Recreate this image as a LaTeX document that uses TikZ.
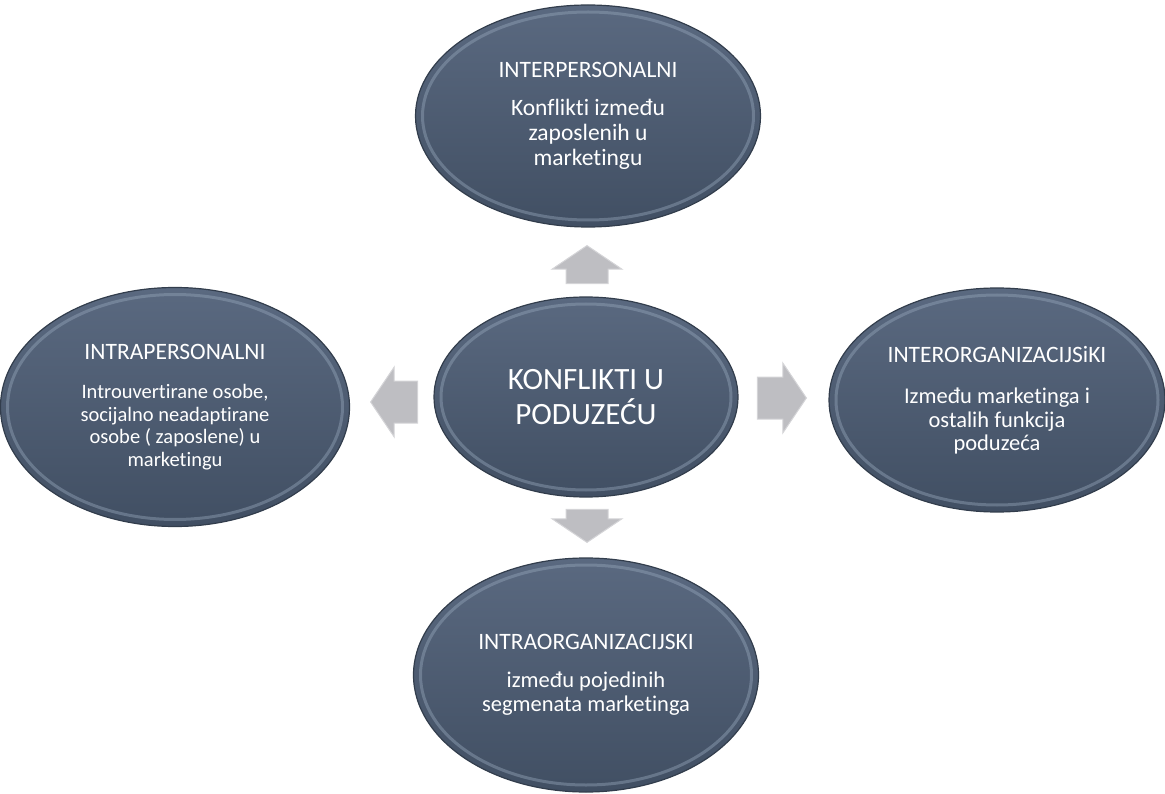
\documentclass[tikz,border=0pt]{standalone}
\usepackage{fontspec}
\setmainfont{Carlito}[Ligatures={NoCommon}]
\usepackage{tikz}
\usetikzlibrary{shapes,shapes.arrows,calc}

\definecolor{konfTop}{HTML}{5A6980}
\definecolor{konfBot}{HTML}{414F63}
\definecolor{konfEdge}{HTML}{323D4C}
\definecolor{konfRim}{HTML}{93A4B8}
\definecolor{blokFill}{HTML}{BEBEC2}
\definecolor{blokEdge}{HTML}{D4D4D7}

\newcommand{\naslov}[1]{{\fontsize{23.5}{23}\selectfont #1}}

\tikzset{
  konf/.style={ellipse, draw=konfEdge, line width=1.2pt, top color=konfTop, bottom color=konfBot,
    text=white, align=center, inner sep=0pt,
    path picture={
      \draw[konfRim, line width=3pt, opacity=0.45]
        let \p1=(path picture bounding box.north east), \p2=(path picture bounding box.center)
        in (\p2) ellipse ({\x1-\x2-7pt} and {\y1-\y2-7pt});
    }},
  blok/.style={single arrow, draw=blokEdge, fill=blokFill, line width=1pt, anchor=tip,
    minimum width=69pt, single arrow head extend=14pt, single arrow tip angle=112},
  blokH/.style={blok, inner xsep=0pt, inner ysep=20.5pt},
  blokV/.style={blok, inner xsep=20.5pt, inner ysep=0pt}
}

\begin{document}
\begin{tikzpicture}[x=1pt,y=-1pt]
		\useasboundingbox (0,0) rectangle (1165,794);
		\node (center)   [konf,minimum width=304pt,minimum height=200pt,font=\fontsize{31}{35}\selectfont] at (586,397) {KONFLIKTI U\\PODUZEĆU};
		\node (inter)    [konf,minimum width=345pt,minimum height=222pt,font=\fontsize{23.5}{25}\selectfont] at (588,116) {\naslov{INTERPERSONALNI}\\[13pt]Konflikti između\\zaposlenih u\\marketingu};
		\node (intra)    [konf,minimum width=349pt,minimum height=239pt,font=\fontsize{20.5}{22.5}\selectfont] at (175,407) {\naslov{INTRAPERSONALNI}\\[17pt]Introuvertirane osobe,\\socijalno neadaptirane\\osobe ( zaposlene) u\\marketingu};
		\node (interorg) [konf,minimum width=336pt,minimum height=224pt,font=\fontsize{22.5}{23.5}\selectfont] at (997,400) {\naslov{INTERORGANIZACIJSiKI}\\[18pt]Između marketinga i\\ostalih funkcija\\poduzeća};
		\node (intraorg) [konf,minimum width=345pt,minimum height=234pt,font=\fontsize{22.5}{24}\selectfont] at (586,675) {\naslov{INTRAORGANIZACIJSKI}\\[14pt]između pojedinih\\segmenata marketinga};
		\node (aUp)    [blokV,minimum height=38pt,shape border rotate=90]  at (587,245) {};
		\node (aDown)  [blokV,minimum height=33pt,shape border rotate=270] at (587,543) {};
		\node (aRight) [blokH,minimum height=49pt,shape border rotate=0]   at (807,398) {};
		\node (aLeft)  [blokH,minimum height=47pt,shape border rotate=180] at (370,402) {};
	\end{tikzpicture}
\end{document}
